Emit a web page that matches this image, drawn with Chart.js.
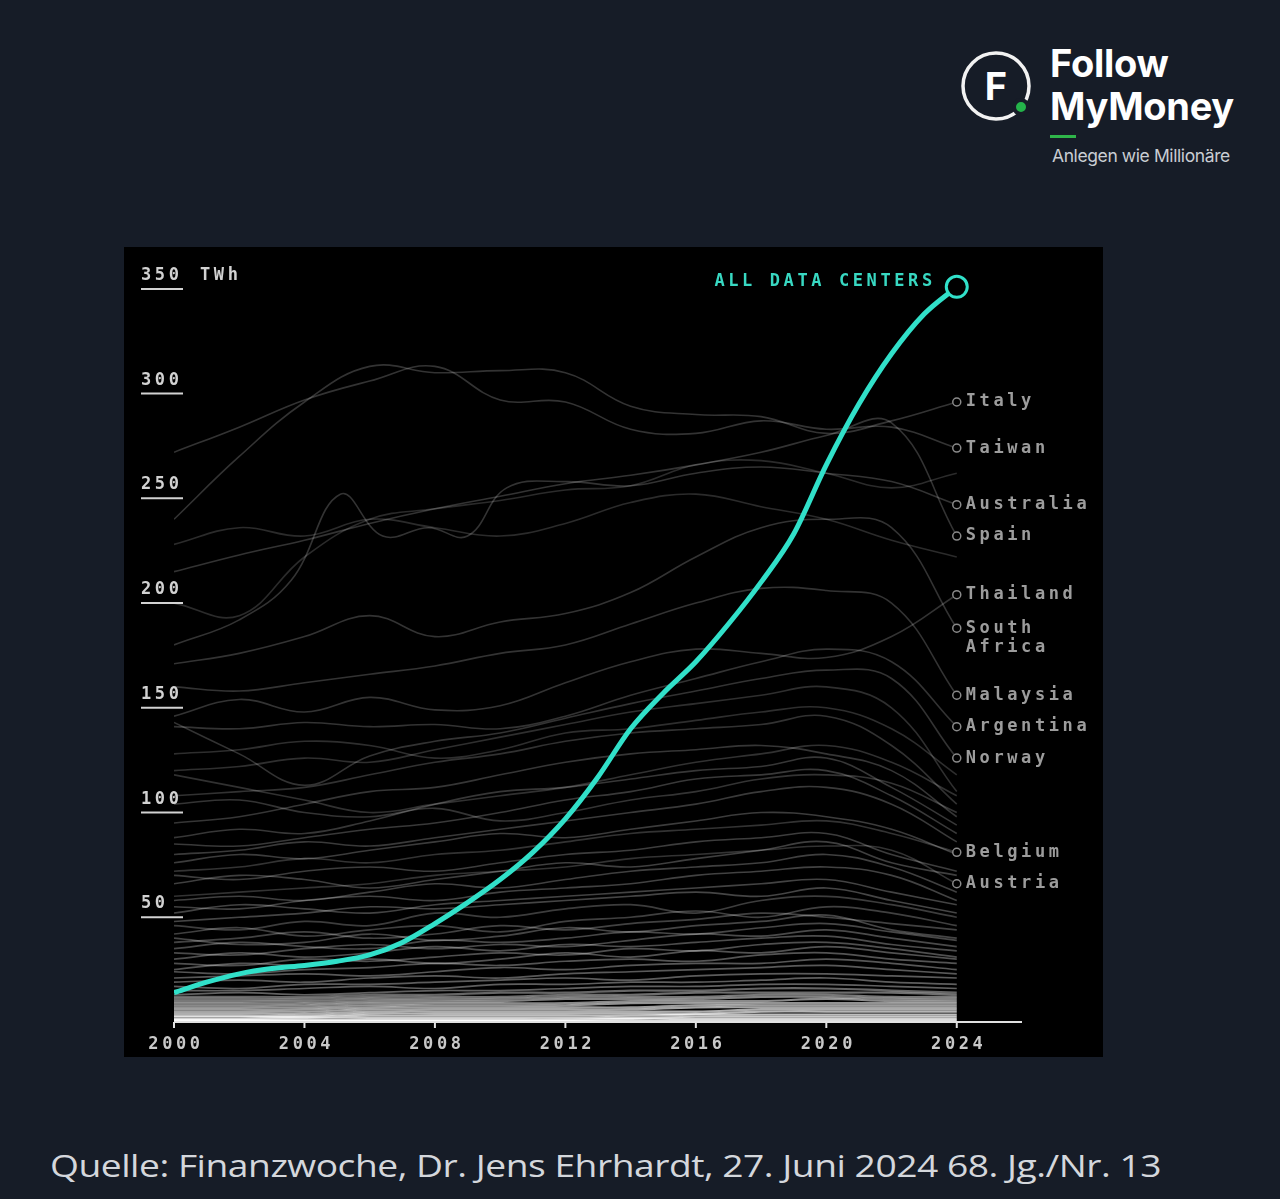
<!DOCTYPE html>
<html lang="de">
<head>
<meta charset="UTF-8">
<title>Stromverbrauch der Rechenzentren</title>
<script src="https://cdn.jsdelivr.net/npm/chart.js"></script>
<style>
  body {
    margin: 0;
    width: 1280px;
    height: 1199px;
    background: #161c27;
    position: relative;
    overflow: hidden;
    font-family: "Open Sans", sans-serif;
  }
  .panel {
    position: absolute;
    left: 124px;
    top: 247px;
    width: 979px;
    height: 810px;
    background: #000;
  }
  .logo { position: absolute; left: 958px; top: 46px; }
  .brand {
    position: absolute;
    left: 1050px;
    top: 42px;
    color: #fff;
    font-family: Inter, sans-serif;
    font-weight: 700;
    font-size: 38px;
    line-height: 43px;
    letter-spacing: -0.3px;
  }
  .brand-line {
    position: absolute;
    left: 1050px;
    top: 135px;
    width: 26px;
    height: 3px;
    background: #2fb54a;
  }
  .claim {
    position: absolute;
    left: 1052px;
    top: 145px;
    color: #c9cdd3;
    font-family: Inter, sans-serif;
    font-size: 17.5px;
    letter-spacing: -0.4px;
  }
  .source {
    position: absolute;
    left: 50px;
    top: 1144px;
    color: #d4d7dc;
    font-size: 31px;
    letter-spacing: -0.4px;
    white-space: nowrap;
    transform: scaleX(1.2);
    transform-origin: left top;
  }
</style>
</head>
<body>
  <svg class="logo" width="80" height="80" viewBox="0 0 80 80">
    <circle cx="38" cy="40" r="33" fill="none" stroke="#f2f2f2" stroke-width="3.5"/>
    <text x="38" y="54" text-anchor="middle" font-family="Inter, sans-serif" font-weight="700" font-size="38" fill="#fff">F</text>
    <circle cx="63" cy="61" r="7" fill="#24b34a" stroke="#161c27" stroke-width="4"/>
  </svg>
  <div class="brand">Follow<br>MyMoney</div>
  <div class="brand-line"></div>
  <div class="claim">Anlegen wie Millionäre</div>

  <div class="panel">
    <canvas id="chart" width="979" height="810"></canvas>
  </div>

  <div class="source">Quelle: Finanzwoche, Dr. Jens Ehrhardt, 27. Juni 2024 68. Jg./Nr. 13</div>

<script>
// Jahre
const allYears = [2000, 2001, 2002, 2003, 2004, 2005, 2006, 2007, 2008, 2009, 2010, 2011, 2012,
                  2013, 2014, 2015, 2016, 2017, 2018, 2019, 2020, 2021, 2022, 2023, 2024];
const years = [2000, 2002, 2004, 2006, 2008, 2010, 2012, 2014, 2016, 2018, 2020, 2022, 2024];

// Achsen
const xTicks = [2000, 2004, 2008, 2012, 2016, 2020, 2024];
const yTicks = [50, 100, 150, 200, 250, 300, 350];
const yUnit = 'TWh';

// Alle Rechenzentren (TWh)
const allDataCenters = [14, 19, 23, 25.5, 27, 29, 32, 38, 47, 57, 68, 81, 97,
                        117, 140, 157, 172, 190, 210, 233, 266, 295, 319, 338, 351];

// Länder mit Beschriftung (TWh, alle zwei Jahre)
const italy        = [240, 270, 296, 313, 310, 311, 310, 294, 290, 289, 281, 287, 296];
const taiwan       = [272, 284, 297, 306, 313, 297, 296, 283, 281, 287, 283, 284, 274];
const australiaYears = [2000, 2002, 2003.6, 2005.1, 2006.4, 2007.8, 2009, 2010.2, 2012, 2014, 2016, 2018, 2020, 2022, 2024];
const australia    = [180, 192, 211, 252, 232, 236, 232, 255, 258, 256, 262, 265, 262, 258, 247];
const spain        = [215, 223, 230, 238, 245, 251, 257, 261, 266, 272, 280, 286, 232];
const thailand     = [146, 154, 148, 155, 149, 151, 162, 172, 178, 176, 174, 184, 204];
const southAfrica  = [171, 176, 184, 194, 184, 191, 195, 205, 222, 236, 240, 236, 188];
const malaysia     = [160, 158, 162, 166, 170, 176, 180, 190, 200, 207, 206, 200, 156];
const argentina    = [141, 140, 143, 141, 142, 140, 146, 156, 164, 172, 178, 172, 141];
const norway       = [143, 128, 113, 127, 134, 138, 145, 152, 158, 164, 168, 164, 126];
const belgium      = [72, 74, 78, 76, 80, 82, 86, 90, 92, 94, 96, 90, 81];
const austria      = [60, 62, 64, 66, 70, 72, 74, 78, 80, 82, 84, 82, 66];

const labelled = [
  ['Italy', italy], ['Taiwan', taiwan], ['Australia', australia], ['Spain', spain],
  ['Thailand', thailand], ['South\nAfrica', southAfrica], ['Malaysia', malaysia],
  ['Argentina', argentina], ['Norway', norway], ['Belgium', belgium], ['Austria', austria]
];

// weitere Länder ohne Beschriftung
const upperLines = [
  [200, 194, 222, 240, 245, 249, 254, 256, 266, 268, 262, 255, 262],
  [228, 236, 232, 240, 236, 232, 238, 248, 252, 246, 240, 230, 222]
];
const midLines = [
  [128, 130, 134, 132, 126, 130, 138, 140, 144, 148, 150, 140, 118],
  [120, 122, 126, 124, 130, 136, 142, 148, 152, 156, 160, 150, 110],
  [118, 112, 106, 100, 104, 108, 112, 118, 124, 128, 132, 124, 108],
  [108, 110, 112, 118, 124, 128, 134, 138, 140, 142, 146, 132, 104],
  [104, 106, 100, 98, 102, 96, 100, 106, 110, 116, 118, 114, 100],
  [95, 98, 104, 110, 112, 118, 124, 128, 130, 132, 128, 120, 98],
  [88, 92, 90, 96, 104, 110, 112, 116, 120, 122, 126, 112, 94],
  [85, 84, 88, 92, 95, 100, 106, 110, 116, 118, 120, 108, 90],
  [80, 82, 86, 84, 88, 92, 96, 100, 104, 110, 112, 104, 86],
  [76, 80, 78, 82, 86, 90, 88, 92, 96, 100, 98, 92, 80],
  [70, 68, 72, 74, 72, 76, 80, 82, 86, 88, 90, 80, 72],
  [66, 70, 68, 64, 68, 72, 76, 74, 78, 82, 86, 76, 70],
  [58, 60, 58, 62, 66, 64, 68, 72, 74, 76, 80, 74, 62],
  [55, 54, 58, 60, 58, 62, 64, 66, 70, 72, 74, 70, 58],
  [52, 56, 54, 52, 56, 58, 60, 62, 64, 66, 68, 62, 56],
  [48, 50, 52, 55, 54, 56, 58, 60, 62, 60, 64, 58, 52]
];
const lowLines = [
  [46, 44, 48, 46, 52, 50, 54, 56, 52, 58, 60, 56, 50],
  [42, 45, 41, 44, 46, 43, 48, 50, 53, 50, 55, 52, 46],
  [38, 40, 43, 40, 42, 46, 44, 47, 49, 52, 50, 47, 44],
  [40, 37, 38, 42, 39, 41, 45, 43, 46, 48, 51, 44, 40],
  [35, 38, 36, 35, 39, 38, 40, 43, 42, 45, 47, 43, 39],
  [33, 32, 35, 37, 35, 37, 36, 39, 42, 41, 44, 40, 36],
  [30, 33, 31, 33, 36, 34, 37, 36, 38, 40, 41, 37, 34],
  [28, 27, 30, 29, 31, 33, 32, 35, 34, 37, 38, 35, 31],
  [25, 28, 27, 30, 28, 30, 33, 31, 34, 33, 36, 33, 30],
  [24, 23, 25, 26, 28, 27, 29, 30, 29, 32, 33, 30, 28],
  [21, 22, 23, 22, 24, 26, 25, 27, 28, 28, 30, 28, 25],
  [19, 20, 19, 21, 22, 21, 23, 24, 25, 26, 27, 25, 23],
  [17, 16, 18, 18, 19, 20, 21, 20, 22, 23, 23, 22, 21],
  [15, 15, 16, 17, 16, 18, 18, 19, 19, 20, 21, 19, 18],
  [13, 14, 13, 14, 15, 15, 16, 17, 17, 18, 18, 17, 16],
  [12, 12, 12, 13, 13, 14, 14, 15, 15, 16, 16, 15, 14],
  [11, 11, 11, 12, 12, 12, 13, 13, 14, 14, 14, 14, 13],
  [10, 10, 10, 11, 11, 11, 12, 12, 12, 13, 13, 12, 12],
  [9, 9, 9, 10, 10, 10, 11, 11, 11, 12, 12, 11, 11],
  [8, 8, 8, 9, 9, 9, 9, 10, 10, 10, 11, 10, 10],
  [7, 7, 7, 8, 8, 8, 8, 9, 9, 9, 9, 9, 9],
  [6, 6, 6, 7, 7, 7, 7, 7, 8, 8, 8, 8, 8],
  [5, 5, 5, 6, 6, 6, 6, 6, 7, 7, 7, 7, 7],
  [4, 4, 4, 5, 5, 5, 5, 5, 5, 6, 6, 6, 6],
  [3, 3, 3, 4, 4, 4, 4, 4, 4, 5, 5, 5, 5],
  [2.5, 2.5, 2.5, 3, 3, 3, 3, 3, 3.5, 3.5, 3.5, 3.5, 3.5],
  [1.5, 1.5, 2, 2, 2, 2, 2, 2, 2.5, 2.5, 2.5, 2.5, 2.5],
  [1, 1, 1, 1, 1, 1, 1, 1.5, 1.5, 1.5, 1.5, 1.5, 1.5],
  [0.5, 0.5, 0.5, 0.5, 0.5, 0.5, 0.5, 0.5, 0.5, 0.5, 0.5, 0.5, 0.5]
];

const TEAL = '#31e0c9';
const MONO = '"DejaVu Sans Mono", monospace';

function pts(xs, ys) {
  return ys.map((v, i) => ({ x: xs[i], y: v }));
}

function greyLine(xs, ys, alpha, width, label) {
  return {
    label: label || '',
    data: pts(xs, ys),
    borderColor: 'rgba(255,255,255,' + alpha + ')',
    borderWidth: width,
    pointRadius: 0,
    tension: 0.4,
    fill: false
  };
}

const datasets = [{
  label: 'ALL DATA CENTERS',
  data: pts(allYears, allDataCenters),
  borderColor: TEAL,
  borderWidth: 5,
  pointRadius: 0,
  cubicInterpolationMode: 'monotone',
  fill: false
}];

labelled.forEach(([name, vals]) => {
  const xs = vals === australia ? australiaYears : years;
  datasets.push(greyLine(xs, vals, 0.2, 1.6, name));
});
upperLines.forEach(v => datasets.push(greyLine(years, v, 0.17, 1.6)));
midLines.forEach((v, i) => datasets.push(greyLine(years, v, 0.18 + i * 0.006, 1.6)));
lowLines.forEach((v, i) => {
  const a = i < 15 ? 0.24 + i * 0.01 : 0.4 + (i - 15) * 0.035;
  datasets.push(greyLine(years, v, a.toFixed(3), i < 15 ? 1.7 : 2.2));
});

const decor = {
  id: 'decor',
  afterDatasetsDraw(chart) {
    const { ctx, scales: { x, y } } = chart;
    const base = y.getPixelForValue(0);
    ctx.save();
    ctx.letterSpacing = '3.6px';

    // y-Achse: Werte mit Unterstrich
    ctx.font = 'bold 17px ' + MONO;
    ctx.textAlign = 'left';
    ctx.textBaseline = 'alphabetic';
    yTicks.forEach(v => {
      const py = y.getPixelForValue(v);
      ctx.fillStyle = '#d2d2d2';
      ctx.fillText(String(v), 17, py - 9);
      ctx.strokeStyle = '#d2d2d2';
      ctx.lineWidth = 2;
      ctx.beginPath();
      ctx.moveTo(17, py);
      ctx.lineTo(59, py);
      ctx.stroke();
    });
    ctx.fillText(yUnit, 76, y.getPixelForValue(yTicks[yTicks.length - 1]) - 9);

    // x-Achse
    ctx.strokeStyle = '#e0e0e0';
    ctx.lineWidth = 2;
    ctx.beginPath();
    ctx.moveTo(x.left, base);
    ctx.lineTo(x.right, base);
    ctx.stroke();
    ctx.textAlign = 'center';
    xTicks.forEach(t => {
      const px = x.getPixelForValue(t);
      ctx.beginPath();
      ctx.moveTo(px, base);
      ctx.lineTo(px, base + 6);
      ctx.stroke();
      ctx.fillStyle = '#c8c8c8';
      ctx.fillText(String(t), px + 2, base + 27);
    });

    // Länderbeschriftungen
    ctx.textAlign = 'left';
    ctx.textBaseline = 'middle';
    chart.data.datasets.forEach((ds, i) => {
      if (i === 0 || !ds.label) return;
      const meta = chart.getDatasetMeta(i);
      const pt = meta.data[meta.data.length - 1];
      ctx.beginPath();
      ctx.arc(pt.x, pt.y, 4, 0, Math.PI * 2);
      ctx.fillStyle = '#000';
      ctx.fill();
      ctx.strokeStyle = '#8a8a8a';
      ctx.lineWidth = 1.5;
      ctx.stroke();
      ctx.fillStyle = '#9c9c9c';
      ds.label.split('\n').forEach((line, k) => {
        ctx.fillText(line, pt.x + 9, pt.y + k * 19);
      });
    });

    // Endpunkt der Gesamtlinie
    const tealMeta = chart.getDatasetMeta(0);
    const end = tealMeta.data[tealMeta.data.length - 1];
    ctx.beginPath();
    ctx.arc(end.x, end.y, 10.5, 0, Math.PI * 2);
    ctx.fillStyle = '#000';
    ctx.fill();
    ctx.strokeStyle = TEAL;
    ctx.lineWidth = 3;
    ctx.stroke();
    ctx.textAlign = 'right';
    ctx.fillStyle = '#38d8c2';
    ctx.fillText(chart.data.datasets[0].label, end.x - 21, end.y - 5);

    ctx.restore();
  }
};

new Chart(document.getElementById('chart'), {
  type: 'line',
  data: { datasets: datasets },
  options: {
    responsive: false,
    animation: false,
    layout: { padding: { left: 50, right: 81, top: 0, bottom: 35 } },
    plugins: { legend: { display: false }, tooltip: { enabled: false } },
    scales: {
      x: { type: 'linear', min: 2000, max: 2026, display: false },
      y: { min: 0, max: 370, display: false }
    }
  },
  plugins: [decor]
});
</script>
</body>
</html>
